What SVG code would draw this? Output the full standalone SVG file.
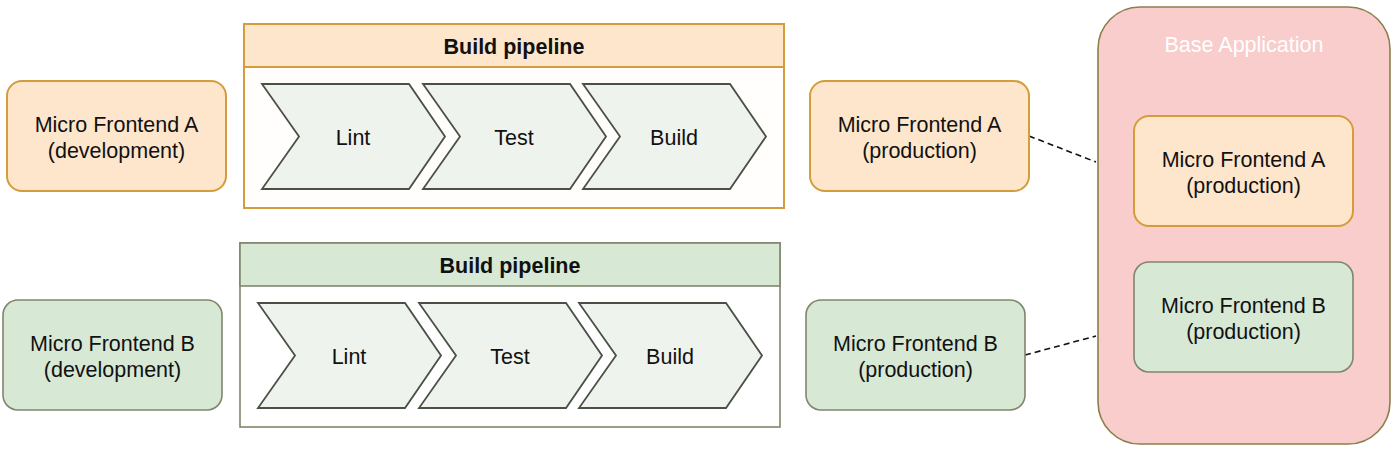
<svg xmlns="http://www.w3.org/2000/svg" xmlns:xlink="http://www.w3.org/1999/xlink" width="1400" height="451" viewBox="0 0 1400 451">
<style>
  text { font-family: "Liberation Sans", Arial, Helvetica, sans-serif; font-size: 21.5px; fill: #111; text-anchor: middle; }
  .bold { font-weight: bold; }
  .white { fill: #ffffff; }
  .orange { fill: #fee6cc; stroke: #d49c3a; stroke-width: 2; }
  .green { fill: #d7e8d5; stroke: #7f866c; stroke-width: 1.6; }
  .bodyA { fill: #fffefd; stroke: #d49c3a; stroke-width: 2; }
  .bodyB { fill: #fefffe; stroke: #7f866c; stroke-width: 1.6; }
  .chev { fill: #eff3ed; stroke: #4a5045; stroke-width: 1.8; }
  .base { fill: #f8cdcc; stroke: #8c7f4c; stroke-width: 1.6; }
  .dash { stroke: #111; stroke-width: 1.6; stroke-dasharray: 6 4; fill: none; }
</style>
<defs>
  <polygon id="chevron" points="0,0 147,0 183,52.5 147,105 0,105 37,52.5"/>
</defs>
<rect width="1400" height="451" fill="#ffffff"/>

<g id="connectors">
  <line class="dash" x1="1029" y1="136" x2="1096" y2="162"/>
  <line class="dash" x1="1025" y1="355" x2="1096" y2="336"/>
</g>

<g id="mfa-dev">
  <rect class="orange" x="7" y="81" width="219" height="110" rx="15"/>
  <text x="116.5" y="132">Micro Frontend A</text>
  <text x="116.5" y="158">(development)</text>
</g>

<g id="pipeline-a">
  <rect class="bodyA" x="244" y="24" width="540" height="184"/>
  <rect class="orange" x="244" y="24" width="540" height="43"/>
  <text class="bold" x="514" y="54">Build pipeline</text>
  <g id="pa-lint">
    <use xlink:href="#chevron" class="chev" transform="translate(262,84)"/>
    <text x="353" y="145">Lint</text>
  </g>
  <g id="pa-test">
    <use xlink:href="#chevron" class="chev" transform="translate(423,84)"/>
    <text x="514" y="145">Test</text>
  </g>
  <g id="pa-build">
    <use xlink:href="#chevron" class="chev" transform="translate(583,84)"/>
    <text x="674" y="145">Build</text>
  </g>
</g>

<g id="mfa-prod">
  <rect class="orange" x="810" y="81" width="219" height="110" rx="15"/>
  <text x="919.5" y="132">Micro Frontend A</text>
  <text x="919.5" y="158">(production)</text>
</g>

<g id="mfb-dev">
  <rect class="green" x="3" y="300" width="219" height="110" rx="15"/>
  <text x="112.5" y="351">Micro Frontend B</text>
  <text x="112.5" y="377">(development)</text>
</g>

<g id="pipeline-b">
  <rect class="bodyB" x="240" y="243" width="540" height="184"/>
  <rect class="green" x="240" y="243" width="540" height="43"/>
  <text class="bold" x="510" y="273">Build pipeline</text>
  <g id="pb-lint">
    <use xlink:href="#chevron" class="chev" transform="translate(258,303)"/>
    <text x="349" y="364">Lint</text>
  </g>
  <g id="pb-test">
    <use xlink:href="#chevron" class="chev" transform="translate(419,303)"/>
    <text x="510" y="364">Test</text>
  </g>
  <g id="pb-build">
    <use xlink:href="#chevron" class="chev" transform="translate(579,303)"/>
    <text x="670" y="364">Build</text>
  </g>
</g>

<g id="mfb-prod">
  <rect class="green" x="806" y="300" width="219" height="110" rx="15"/>
  <text x="915.5" y="351">Micro Frontend B</text>
  <text x="915.5" y="377">(production)</text>
</g>

<g id="base-app">
  <rect class="base" x="1098" y="7" width="292" height="437" rx="42"/>
  <text class="white" x="1244" y="52">Base Application</text>
  <g id="base-mfa">
    <rect class="orange" x="1134" y="116" width="219" height="110" rx="15"/>
    <text x="1243.5" y="167">Micro Frontend A</text>
    <text x="1243.5" y="193">(production)</text>
  </g>
  <g id="base-mfb">
    <rect class="green" x="1134" y="262" width="219" height="110" rx="15"/>
    <text x="1243.5" y="313">Micro Frontend B</text>
    <text x="1243.5" y="339">(production)</text>
  </g>
</g>
</svg>
